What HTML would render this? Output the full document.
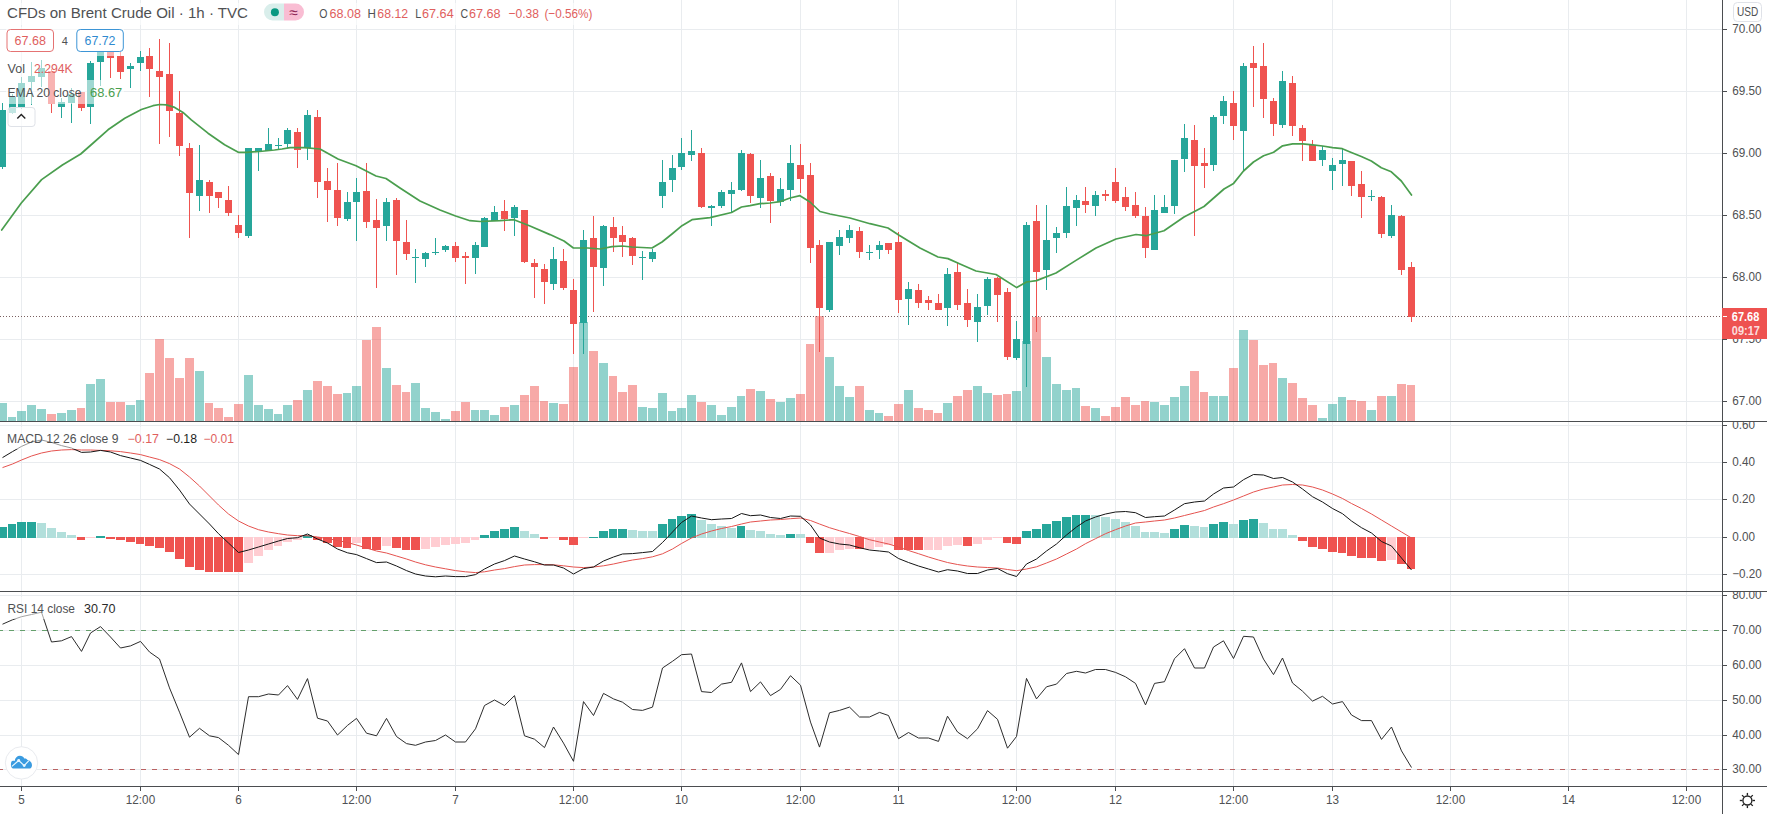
<!DOCTYPE html>
<html><head><meta charset="utf-8"><title>CFDs on Brent Crude Oil</title>
<style>
html,body{margin:0;padding:0;background:#fff;}
body{width:1767px;height:814px;overflow:hidden;position:relative;font-family:"Liberation Sans", Arial, sans-serif;}
svg{position:absolute;left:0;top:0;display:block;}
text{font-family:"Liberation Sans", Arial, sans-serif;}
.ax{font-size:12.2px;fill:#4f5153;}
.lg{font-size:12px;fill:#4f5153;}
</style></head><body>
<svg width="1767" height="814" viewBox="0 0 1767 814">
<defs>
<clipPath id="cm"><rect x="0" y="0" width="1722" height="421"/></clipPath>
<clipPath id="c2"><rect x="0" y="422" width="1722" height="169"/></clipPath>
<clipPath id="c3"><rect x="0" y="592" width="1722" height="194"/></clipPath>
<clipPath id="a2"><rect x="1722" y="422" width="45" height="169"/></clipPath>
<clipPath id="a3"><rect x="1722" y="592" width="45" height="194"/></clipPath>
</defs>
<rect width="1767" height="814" fill="#fff"/>

<g shape-rendering="crispEdges" fill="#e9ecef">
<rect x="21" y="0" width="1" height="786"/>
<rect x="140" y="0" width="1" height="786"/>
<rect x="238" y="0" width="1" height="786"/>
<rect x="356" y="0" width="1" height="786"/>
<rect x="455" y="0" width="1" height="786"/>
<rect x="573" y="0" width="1" height="786"/>
<rect x="681" y="0" width="1" height="786"/>
<rect x="800" y="0" width="1" height="786"/>
<rect x="898" y="0" width="1" height="786"/>
<rect x="1016" y="0" width="1" height="786"/>
<rect x="1115" y="0" width="1" height="786"/>
<rect x="1233" y="0" width="1" height="786"/>
<rect x="1332" y="0" width="1" height="786"/>
<rect x="1450" y="0" width="1" height="786"/>
<rect x="1568" y="0" width="1" height="786"/>
<rect x="1686" y="0" width="1" height="786"/>
<rect x="0" y="29" width="1722" height="1"/>
<rect x="0" y="91" width="1722" height="1"/>
<rect x="0" y="153" width="1722" height="1"/>
<rect x="0" y="215" width="1722" height="1"/>
<rect x="0" y="277" width="1722" height="1"/>
<rect x="0" y="339" width="1722" height="1"/>
<rect x="0" y="401" width="1722" height="1"/>
<rect x="0" y="425" width="1722" height="1"/>
<rect x="0" y="462" width="1722" height="1"/>
<rect x="0" y="499" width="1722" height="1"/>
<rect x="0" y="537" width="1722" height="1"/>
<rect x="0" y="574" width="1722" height="1"/>
<rect x="0" y="595" width="1722" height="1"/>
<rect x="0" y="630" width="1722" height="1"/>
<rect x="0" y="665" width="1722" height="1"/>
<rect x="0" y="700" width="1722" height="1"/>
<rect x="0" y="735" width="1722" height="1"/>
<rect x="0" y="769" width="1722" height="1"/>
</g>
<g clip-path="url(#cm)" shape-rendering="crispEdges">
<rect x="-2" y="403" width="9" height="18" fill="rgba(38,166,154,0.5)"/>
<rect x="8" y="417" width="8" height="4" fill="rgba(38,166,154,0.5)"/>
<rect x="17" y="411" width="9" height="10" fill="rgba(38,166,154,0.5)"/>
<rect x="27" y="405" width="9" height="16" fill="rgba(38,166,154,0.5)"/>
<rect x="37" y="409" width="9" height="12" fill="rgba(38,166,154,0.5)"/>
<rect x="47" y="414" width="9" height="7" fill="rgba(239,83,80,0.5)"/>
<rect x="57" y="413" width="9" height="8" fill="rgba(38,166,154,0.5)"/>
<rect x="67" y="410" width="9" height="11" fill="rgba(38,166,154,0.5)"/>
<rect x="77" y="408" width="8" height="13" fill="rgba(239,83,80,0.5)"/>
<rect x="86" y="384" width="9" height="37" fill="rgba(38,166,154,0.5)"/>
<rect x="96" y="379" width="9" height="42" fill="rgba(38,166,154,0.5)"/>
<rect x="106" y="402" width="9" height="19" fill="rgba(239,83,80,0.5)"/>
<rect x="116" y="402" width="9" height="19" fill="rgba(239,83,80,0.5)"/>
<rect x="126" y="405" width="9" height="16" fill="rgba(38,166,154,0.5)"/>
<rect x="136" y="400" width="8" height="21" fill="rgba(38,166,154,0.5)"/>
<rect x="145" y="373" width="9" height="48" fill="rgba(239,83,80,0.5)"/>
<rect x="155" y="339" width="9" height="82" fill="rgba(239,83,80,0.5)"/>
<rect x="165" y="358" width="9" height="63" fill="rgba(239,83,80,0.5)"/>
<rect x="175" y="378" width="9" height="43" fill="rgba(239,83,80,0.5)"/>
<rect x="185" y="358" width="9" height="63" fill="rgba(239,83,80,0.5)"/>
<rect x="195" y="371" width="9" height="50" fill="rgba(38,166,154,0.5)"/>
<rect x="205" y="403" width="8" height="18" fill="rgba(239,83,80,0.5)"/>
<rect x="214" y="408" width="9" height="13" fill="rgba(239,83,80,0.5)"/>
<rect x="224" y="417" width="9" height="4" fill="rgba(239,83,80,0.5)"/>
<rect x="234" y="404" width="9" height="17" fill="rgba(239,83,80,0.5)"/>
<rect x="244" y="375" width="9" height="46" fill="rgba(38,166,154,0.5)"/>
<rect x="254" y="405" width="9" height="16" fill="rgba(38,166,154,0.5)"/>
<rect x="264" y="409" width="9" height="12" fill="rgba(38,166,154,0.5)"/>
<rect x="274" y="414" width="8" height="7" fill="rgba(38,166,154,0.5)"/>
<rect x="283" y="405" width="9" height="16" fill="rgba(38,166,154,0.5)"/>
<rect x="293" y="400" width="9" height="21" fill="rgba(239,83,80,0.5)"/>
<rect x="303" y="390" width="9" height="31" fill="rgba(38,166,154,0.5)"/>
<rect x="313" y="381" width="9" height="40" fill="rgba(239,83,80,0.5)"/>
<rect x="323" y="386" width="9" height="35" fill="rgba(239,83,80,0.5)"/>
<rect x="333" y="394" width="9" height="27" fill="rgba(239,83,80,0.5)"/>
<rect x="343" y="393" width="8" height="28" fill="rgba(38,166,154,0.5)"/>
<rect x="352" y="386" width="9" height="35" fill="rgba(38,166,154,0.5)"/>
<rect x="362" y="340" width="9" height="81" fill="rgba(239,83,80,0.5)"/>
<rect x="372" y="327" width="9" height="94" fill="rgba(239,83,80,0.5)"/>
<rect x="382" y="368" width="9" height="53" fill="rgba(38,166,154,0.5)"/>
<rect x="392" y="385" width="9" height="36" fill="rgba(239,83,80,0.5)"/>
<rect x="402" y="392" width="8" height="29" fill="rgba(239,83,80,0.5)"/>
<rect x="411" y="383" width="9" height="38" fill="rgba(38,166,154,0.5)"/>
<rect x="421" y="408" width="9" height="13" fill="rgba(38,166,154,0.5)"/>
<rect x="431" y="412" width="9" height="9" fill="rgba(38,166,154,0.5)"/>
<rect x="441" y="419" width="9" height="2" fill="rgba(38,166,154,0.5)"/>
<rect x="451" y="411" width="9" height="10" fill="rgba(239,83,80,0.5)"/>
<rect x="461" y="402" width="9" height="19" fill="rgba(239,83,80,0.5)"/>
<rect x="471" y="410" width="8" height="11" fill="rgba(38,166,154,0.5)"/>
<rect x="480" y="410" width="9" height="11" fill="rgba(38,166,154,0.5)"/>
<rect x="490" y="415" width="9" height="6" fill="rgba(38,166,154,0.5)"/>
<rect x="500" y="407" width="9" height="14" fill="rgba(239,83,80,0.5)"/>
<rect x="510" y="405" width="9" height="16" fill="rgba(38,166,154,0.5)"/>
<rect x="520" y="395" width="9" height="26" fill="rgba(239,83,80,0.5)"/>
<rect x="530" y="386" width="9" height="35" fill="rgba(239,83,80,0.5)"/>
<rect x="540" y="401" width="8" height="20" fill="rgba(239,83,80,0.5)"/>
<rect x="549" y="403" width="9" height="18" fill="rgba(38,166,154,0.5)"/>
<rect x="559" y="404" width="9" height="17" fill="rgba(239,83,80,0.5)"/>
<rect x="569" y="367" width="9" height="54" fill="rgba(239,83,80,0.5)"/>
<rect x="579" y="322" width="9" height="99" fill="rgba(38,166,154,0.5)"/>
<rect x="589" y="351" width="9" height="70" fill="rgba(239,83,80,0.5)"/>
<rect x="599" y="363" width="9" height="58" fill="rgba(38,166,154,0.5)"/>
<rect x="609" y="376" width="8" height="45" fill="rgba(239,83,80,0.5)"/>
<rect x="618" y="392" width="9" height="29" fill="rgba(239,83,80,0.5)"/>
<rect x="628" y="385" width="9" height="36" fill="rgba(239,83,80,0.5)"/>
<rect x="638" y="407" width="9" height="14" fill="rgba(38,166,154,0.5)"/>
<rect x="648" y="408" width="9" height="13" fill="rgba(38,166,154,0.5)"/>
<rect x="658" y="393" width="9" height="28" fill="rgba(38,166,154,0.5)"/>
<rect x="668" y="411" width="8" height="10" fill="rgba(38,166,154,0.5)"/>
<rect x="677" y="408" width="9" height="13" fill="rgba(38,166,154,0.5)"/>
<rect x="687" y="395" width="9" height="26" fill="rgba(38,166,154,0.5)"/>
<rect x="697" y="402" width="9" height="19" fill="rgba(239,83,80,0.5)"/>
<rect x="707" y="405" width="9" height="16" fill="rgba(38,166,154,0.5)"/>
<rect x="717" y="415" width="9" height="6" fill="rgba(38,166,154,0.5)"/>
<rect x="727" y="407" width="9" height="14" fill="rgba(38,166,154,0.5)"/>
<rect x="737" y="396" width="8" height="25" fill="rgba(38,166,154,0.5)"/>
<rect x="746" y="389" width="9" height="32" fill="rgba(239,83,80,0.5)"/>
<rect x="756" y="391" width="9" height="30" fill="rgba(38,166,154,0.5)"/>
<rect x="766" y="399" width="9" height="22" fill="rgba(239,83,80,0.5)"/>
<rect x="776" y="402" width="9" height="19" fill="rgba(38,166,154,0.5)"/>
<rect x="786" y="398" width="9" height="23" fill="rgba(38,166,154,0.5)"/>
<rect x="796" y="394" width="9" height="27" fill="rgba(239,83,80,0.5)"/>
<rect x="806" y="344" width="8" height="77" fill="rgba(239,83,80,0.5)"/>
<rect x="815" y="316" width="9" height="105" fill="rgba(239,83,80,0.5)"/>
<rect x="825" y="357" width="9" height="64" fill="rgba(38,166,154,0.5)"/>
<rect x="835" y="386" width="9" height="35" fill="rgba(38,166,154,0.5)"/>
<rect x="845" y="397" width="9" height="24" fill="rgba(38,166,154,0.5)"/>
<rect x="855" y="386" width="9" height="35" fill="rgba(239,83,80,0.5)"/>
<rect x="865" y="410" width="9" height="11" fill="rgba(38,166,154,0.5)"/>
<rect x="875" y="413" width="8" height="8" fill="rgba(38,166,154,0.5)"/>
<rect x="884" y="416" width="9" height="5" fill="rgba(239,83,80,0.5)"/>
<rect x="894" y="404" width="9" height="17" fill="rgba(239,83,80,0.5)"/>
<rect x="904" y="390" width="9" height="31" fill="rgba(38,166,154,0.5)"/>
<rect x="914" y="408" width="9" height="13" fill="rgba(239,83,80,0.5)"/>
<rect x="924" y="410" width="9" height="11" fill="rgba(239,83,80,0.5)"/>
<rect x="934" y="413" width="8" height="8" fill="rgba(239,83,80,0.5)"/>
<rect x="943" y="403" width="9" height="18" fill="rgba(38,166,154,0.5)"/>
<rect x="953" y="396" width="9" height="25" fill="rgba(239,83,80,0.5)"/>
<rect x="963" y="390" width="9" height="31" fill="rgba(239,83,80,0.5)"/>
<rect x="973" y="386" width="9" height="35" fill="rgba(38,166,154,0.5)"/>
<rect x="983" y="393" width="9" height="28" fill="rgba(38,166,154,0.5)"/>
<rect x="993" y="395" width="9" height="26" fill="rgba(239,83,80,0.5)"/>
<rect x="1003" y="394" width="8" height="27" fill="rgba(239,83,80,0.5)"/>
<rect x="1012" y="391" width="9" height="30" fill="rgba(38,166,154,0.5)"/>
<rect x="1022" y="341" width="9" height="80" fill="rgba(38,166,154,0.5)"/>
<rect x="1032" y="317" width="9" height="104" fill="rgba(239,83,80,0.5)"/>
<rect x="1042" y="357" width="9" height="64" fill="rgba(38,166,154,0.5)"/>
<rect x="1052" y="384" width="9" height="37" fill="rgba(38,166,154,0.5)"/>
<rect x="1062" y="390" width="9" height="31" fill="rgba(38,166,154,0.5)"/>
<rect x="1072" y="388" width="8" height="33" fill="rgba(38,166,154,0.5)"/>
<rect x="1081" y="406" width="9" height="15" fill="rgba(239,83,80,0.5)"/>
<rect x="1091" y="408" width="9" height="13" fill="rgba(38,166,154,0.5)"/>
<rect x="1101" y="416" width="9" height="5" fill="rgba(239,83,80,0.5)"/>
<rect x="1111" y="407" width="9" height="14" fill="rgba(239,83,80,0.5)"/>
<rect x="1121" y="397" width="9" height="24" fill="rgba(239,83,80,0.5)"/>
<rect x="1131" y="405" width="9" height="16" fill="rgba(239,83,80,0.5)"/>
<rect x="1141" y="401" width="8" height="20" fill="rgba(239,83,80,0.5)"/>
<rect x="1150" y="402" width="9" height="19" fill="rgba(38,166,154,0.5)"/>
<rect x="1160" y="405" width="9" height="16" fill="rgba(38,166,154,0.5)"/>
<rect x="1170" y="397" width="9" height="24" fill="rgba(38,166,154,0.5)"/>
<rect x="1180" y="386" width="9" height="35" fill="rgba(38,166,154,0.5)"/>
<rect x="1190" y="371" width="9" height="50" fill="rgba(239,83,80,0.5)"/>
<rect x="1200" y="392" width="8" height="29" fill="rgba(239,83,80,0.5)"/>
<rect x="1209" y="396" width="9" height="25" fill="rgba(38,166,154,0.5)"/>
<rect x="1219" y="396" width="9" height="25" fill="rgba(38,166,154,0.5)"/>
<rect x="1229" y="368" width="9" height="53" fill="rgba(239,83,80,0.5)"/>
<rect x="1239" y="330" width="9" height="91" fill="rgba(38,166,154,0.5)"/>
<rect x="1249" y="340" width="9" height="81" fill="rgba(239,83,80,0.5)"/>
<rect x="1259" y="365" width="9" height="56" fill="rgba(239,83,80,0.5)"/>
<rect x="1269" y="363" width="8" height="58" fill="rgba(239,83,80,0.5)"/>
<rect x="1278" y="378" width="9" height="43" fill="rgba(38,166,154,0.5)"/>
<rect x="1288" y="383" width="9" height="38" fill="rgba(239,83,80,0.5)"/>
<rect x="1298" y="398" width="9" height="23" fill="rgba(239,83,80,0.5)"/>
<rect x="1308" y="405" width="9" height="16" fill="rgba(239,83,80,0.5)"/>
<rect x="1318" y="418" width="9" height="3" fill="rgba(38,166,154,0.5)"/>
<rect x="1328" y="404" width="9" height="17" fill="rgba(38,166,154,0.5)"/>
<rect x="1338" y="397" width="8" height="24" fill="rgba(38,166,154,0.5)"/>
<rect x="1347" y="400" width="9" height="21" fill="rgba(239,83,80,0.5)"/>
<rect x="1357" y="401" width="9" height="20" fill="rgba(239,83,80,0.5)"/>
<rect x="1367" y="410" width="9" height="11" fill="rgba(38,166,154,0.5)"/>
<rect x="1377" y="396" width="9" height="25" fill="rgba(239,83,80,0.5)"/>
<rect x="1387" y="396" width="9" height="25" fill="rgba(38,166,154,0.5)"/>
<rect x="1397" y="384" width="9" height="37" fill="rgba(239,83,80,0.5)"/>
<rect x="1407" y="385" width="8" height="36" fill="rgba(239,83,80,0.5)"/>
<line x1="0" y1="316.5" x2="1722" y2="316.5" stroke="#7a6060" stroke-width="1" stroke-dasharray="1 2" shape-rendering="crispEdges"/>
<rect x="2" y="103" width="1" height="66" fill="#26a69a"/>
<rect x="-1" y="110" width="7" height="57" fill="#26a69a"/>
<rect x="12" y="94" width="1" height="20" fill="#26a69a"/>
<rect x="9" y="97" width="7" height="16" fill="#26a69a"/>
<rect x="21" y="77" width="1" height="32" fill="#26a69a"/>
<rect x="18" y="83" width="7" height="25" fill="#26a69a"/>
<rect x="31" y="62" width="1" height="43" fill="#26a69a"/>
<rect x="28" y="76" width="7" height="6" fill="#26a69a"/>
<rect x="41" y="60" width="1" height="27" fill="#26a69a"/>
<rect x="38" y="68" width="7" height="9" fill="#26a69a"/>
<rect x="51" y="69" width="1" height="44" fill="#ef5350"/>
<rect x="48" y="71" width="7" height="33" fill="#ef5350"/>
<rect x="61" y="98" width="1" height="20" fill="#26a69a"/>
<rect x="58" y="102" width="7" height="5" fill="#26a69a"/>
<rect x="71" y="88" width="1" height="35" fill="#26a69a"/>
<rect x="68" y="94" width="7" height="9" fill="#26a69a"/>
<rect x="81" y="92" width="1" height="19" fill="#ef5350"/>
<rect x="78" y="92" width="7" height="16" fill="#ef5350"/>
<rect x="90" y="61" width="1" height="63" fill="#26a69a"/>
<rect x="87" y="63" width="7" height="44" fill="#26a69a"/>
<rect x="100" y="45" width="1" height="41" fill="#26a69a"/>
<rect x="97" y="48" width="7" height="14" fill="#26a69a"/>
<rect x="110" y="45" width="1" height="33" fill="#ef5350"/>
<rect x="107" y="48" width="7" height="10" fill="#ef5350"/>
<rect x="120" y="52" width="1" height="27" fill="#ef5350"/>
<rect x="117" y="56" width="7" height="16" fill="#ef5350"/>
<rect x="130" y="63" width="1" height="25" fill="#26a69a"/>
<rect x="127" y="66" width="7" height="3" fill="#26a69a"/>
<rect x="140" y="51" width="1" height="20" fill="#26a69a"/>
<rect x="137" y="57" width="7" height="6" fill="#26a69a"/>
<rect x="149" y="48" width="1" height="49" fill="#ef5350"/>
<rect x="146" y="56" width="7" height="13" fill="#ef5350"/>
<rect x="159" y="39" width="1" height="105" fill="#ef5350"/>
<rect x="156" y="71" width="7" height="6" fill="#ef5350"/>
<rect x="169" y="43" width="1" height="94" fill="#ef5350"/>
<rect x="166" y="74" width="7" height="37" fill="#ef5350"/>
<rect x="179" y="91" width="1" height="65" fill="#ef5350"/>
<rect x="176" y="113" width="7" height="33" fill="#ef5350"/>
<rect x="189" y="143" width="1" height="95" fill="#ef5350"/>
<rect x="186" y="148" width="7" height="45" fill="#ef5350"/>
<rect x="199" y="145" width="1" height="66" fill="#26a69a"/>
<rect x="196" y="180" width="7" height="16" fill="#26a69a"/>
<rect x="209" y="180" width="1" height="33" fill="#ef5350"/>
<rect x="206" y="182" width="7" height="14" fill="#ef5350"/>
<rect x="218" y="192" width="1" height="16" fill="#ef5350"/>
<rect x="215" y="192" width="7" height="6" fill="#ef5350"/>
<rect x="228" y="186" width="1" height="30" fill="#ef5350"/>
<rect x="225" y="200" width="7" height="13" fill="#ef5350"/>
<rect x="238" y="215" width="1" height="23" fill="#ef5350"/>
<rect x="235" y="225" width="7" height="8" fill="#ef5350"/>
<rect x="248" y="148" width="1" height="90" fill="#26a69a"/>
<rect x="245" y="148" width="7" height="88" fill="#26a69a"/>
<rect x="258" y="148" width="1" height="23" fill="#26a69a"/>
<rect x="255" y="148" width="7" height="4" fill="#26a69a"/>
<rect x="268" y="128" width="1" height="23" fill="#26a69a"/>
<rect x="265" y="144" width="7" height="7" fill="#26a69a"/>
<rect x="278" y="138" width="1" height="12" fill="#26a69a"/>
<rect x="275" y="145" width="7" height="1" fill="#26a69a"/>
<rect x="287" y="128" width="1" height="20" fill="#26a69a"/>
<rect x="284" y="130" width="7" height="14" fill="#26a69a"/>
<rect x="297" y="128" width="1" height="40" fill="#ef5350"/>
<rect x="294" y="132" width="7" height="18" fill="#ef5350"/>
<rect x="307" y="110" width="1" height="50" fill="#26a69a"/>
<rect x="304" y="115" width="7" height="33" fill="#26a69a"/>
<rect x="317" y="110" width="1" height="88" fill="#ef5350"/>
<rect x="314" y="117" width="7" height="65" fill="#ef5350"/>
<rect x="327" y="168" width="1" height="54" fill="#ef5350"/>
<rect x="324" y="181" width="7" height="9" fill="#ef5350"/>
<rect x="337" y="163" width="1" height="63" fill="#ef5350"/>
<rect x="334" y="190" width="7" height="28" fill="#ef5350"/>
<rect x="347" y="192" width="1" height="29" fill="#26a69a"/>
<rect x="344" y="202" width="7" height="17" fill="#26a69a"/>
<rect x="356" y="178" width="1" height="63" fill="#26a69a"/>
<rect x="353" y="192" width="7" height="10" fill="#26a69a"/>
<rect x="366" y="163" width="1" height="65" fill="#ef5350"/>
<rect x="363" y="191" width="7" height="31" fill="#ef5350"/>
<rect x="376" y="199" width="1" height="89" fill="#ef5350"/>
<rect x="373" y="220" width="7" height="8" fill="#ef5350"/>
<rect x="386" y="198" width="1" height="43" fill="#26a69a"/>
<rect x="383" y="202" width="7" height="24" fill="#26a69a"/>
<rect x="396" y="198" width="1" height="77" fill="#ef5350"/>
<rect x="393" y="200" width="7" height="41" fill="#ef5350"/>
<rect x="406" y="220" width="1" height="40" fill="#ef5350"/>
<rect x="403" y="242" width="7" height="12" fill="#ef5350"/>
<rect x="415" y="249" width="1" height="34" fill="#26a69a"/>
<rect x="412" y="257" width="7" height="1" fill="#26a69a"/>
<rect x="425" y="252" width="1" height="15" fill="#26a69a"/>
<rect x="422" y="253" width="7" height="6" fill="#26a69a"/>
<rect x="435" y="238" width="1" height="17" fill="#26a69a"/>
<rect x="432" y="252" width="7" height="1" fill="#26a69a"/>
<rect x="445" y="245" width="1" height="7" fill="#26a69a"/>
<rect x="442" y="246" width="7" height="4" fill="#26a69a"/>
<rect x="455" y="242" width="1" height="20" fill="#ef5350"/>
<rect x="452" y="246" width="7" height="12" fill="#ef5350"/>
<rect x="465" y="252" width="1" height="32" fill="#ef5350"/>
<rect x="462" y="256" width="7" height="2" fill="#ef5350"/>
<rect x="475" y="242" width="1" height="32" fill="#26a69a"/>
<rect x="472" y="245" width="7" height="13" fill="#26a69a"/>
<rect x="484" y="217" width="1" height="30" fill="#26a69a"/>
<rect x="481" y="218" width="7" height="29" fill="#26a69a"/>
<rect x="494" y="206" width="1" height="15" fill="#26a69a"/>
<rect x="491" y="212" width="7" height="9" fill="#26a69a"/>
<rect x="504" y="200" width="1" height="31" fill="#ef5350"/>
<rect x="501" y="211" width="7" height="8" fill="#ef5350"/>
<rect x="514" y="205" width="1" height="31" fill="#26a69a"/>
<rect x="511" y="207" width="7" height="11" fill="#26a69a"/>
<rect x="524" y="210" width="1" height="53" fill="#ef5350"/>
<rect x="521" y="210" width="7" height="52" fill="#ef5350"/>
<rect x="534" y="259" width="1" height="39" fill="#ef5350"/>
<rect x="531" y="263" width="7" height="4" fill="#ef5350"/>
<rect x="544" y="264" width="1" height="40" fill="#ef5350"/>
<rect x="541" y="269" width="7" height="13" fill="#ef5350"/>
<rect x="553" y="247" width="1" height="43" fill="#26a69a"/>
<rect x="550" y="259" width="7" height="25" fill="#26a69a"/>
<rect x="563" y="249" width="1" height="41" fill="#ef5350"/>
<rect x="560" y="261" width="7" height="27" fill="#ef5350"/>
<rect x="573" y="279" width="1" height="75" fill="#ef5350"/>
<rect x="570" y="290" width="7" height="34" fill="#ef5350"/>
<rect x="583" y="230" width="1" height="124" fill="#26a69a"/>
<rect x="580" y="240" width="7" height="83" fill="#26a69a"/>
<rect x="593" y="216" width="1" height="96" fill="#ef5350"/>
<rect x="590" y="238" width="7" height="29" fill="#ef5350"/>
<rect x="603" y="225" width="1" height="61" fill="#26a69a"/>
<rect x="600" y="226" width="7" height="42" fill="#26a69a"/>
<rect x="613" y="217" width="1" height="35" fill="#ef5350"/>
<rect x="610" y="227" width="7" height="11" fill="#ef5350"/>
<rect x="622" y="226" width="1" height="31" fill="#ef5350"/>
<rect x="619" y="235" width="7" height="7" fill="#ef5350"/>
<rect x="632" y="237" width="1" height="28" fill="#ef5350"/>
<rect x="629" y="238" width="7" height="18" fill="#ef5350"/>
<rect x="642" y="251" width="1" height="29" fill="#26a69a"/>
<rect x="639" y="257" width="7" height="1" fill="#26a69a"/>
<rect x="652" y="249" width="1" height="13" fill="#26a69a"/>
<rect x="649" y="252" width="7" height="7" fill="#26a69a"/>
<rect x="662" y="160" width="1" height="48" fill="#26a69a"/>
<rect x="659" y="182" width="7" height="14" fill="#26a69a"/>
<rect x="672" y="155" width="1" height="37" fill="#26a69a"/>
<rect x="669" y="168" width="7" height="12" fill="#26a69a"/>
<rect x="681" y="138" width="1" height="32" fill="#26a69a"/>
<rect x="678" y="153" width="7" height="14" fill="#26a69a"/>
<rect x="691" y="130" width="1" height="31" fill="#26a69a"/>
<rect x="688" y="151" width="7" height="4" fill="#26a69a"/>
<rect x="701" y="148" width="1" height="60" fill="#ef5350"/>
<rect x="698" y="153" width="7" height="54" fill="#ef5350"/>
<rect x="711" y="205" width="1" height="21" fill="#26a69a"/>
<rect x="708" y="206" width="7" height="2" fill="#26a69a"/>
<rect x="721" y="190" width="1" height="18" fill="#26a69a"/>
<rect x="718" y="192" width="7" height="14" fill="#26a69a"/>
<rect x="731" y="182" width="1" height="31" fill="#26a69a"/>
<rect x="728" y="190" width="7" height="4" fill="#26a69a"/>
<rect x="741" y="150" width="1" height="41" fill="#26a69a"/>
<rect x="738" y="153" width="7" height="37" fill="#26a69a"/>
<rect x="750" y="153" width="1" height="50" fill="#ef5350"/>
<rect x="747" y="154" width="7" height="42" fill="#ef5350"/>
<rect x="760" y="160" width="1" height="48" fill="#26a69a"/>
<rect x="757" y="178" width="7" height="20" fill="#26a69a"/>
<rect x="770" y="173" width="1" height="50" fill="#ef5350"/>
<rect x="767" y="176" width="7" height="25" fill="#ef5350"/>
<rect x="780" y="178" width="1" height="28" fill="#26a69a"/>
<rect x="777" y="189" width="7" height="13" fill="#26a69a"/>
<rect x="790" y="145" width="1" height="56" fill="#26a69a"/>
<rect x="787" y="163" width="7" height="27" fill="#26a69a"/>
<rect x="800" y="144" width="1" height="49" fill="#ef5350"/>
<rect x="797" y="165" width="7" height="14" fill="#ef5350"/>
<rect x="810" y="163" width="1" height="100" fill="#ef5350"/>
<rect x="807" y="175" width="7" height="73" fill="#ef5350"/>
<rect x="819" y="240" width="1" height="112" fill="#ef5350"/>
<rect x="816" y="245" width="7" height="63" fill="#ef5350"/>
<rect x="829" y="242" width="1" height="70" fill="#26a69a"/>
<rect x="826" y="242" width="7" height="68" fill="#26a69a"/>
<rect x="839" y="230" width="1" height="25" fill="#26a69a"/>
<rect x="836" y="237" width="7" height="9" fill="#26a69a"/>
<rect x="849" y="225" width="1" height="18" fill="#26a69a"/>
<rect x="846" y="230" width="7" height="8" fill="#26a69a"/>
<rect x="859" y="227" width="1" height="31" fill="#ef5350"/>
<rect x="856" y="231" width="7" height="21" fill="#ef5350"/>
<rect x="869" y="245" width="1" height="15" fill="#26a69a"/>
<rect x="866" y="252" width="7" height="1" fill="#26a69a"/>
<rect x="879" y="241" width="1" height="18" fill="#26a69a"/>
<rect x="876" y="245" width="7" height="5" fill="#26a69a"/>
<rect x="888" y="243" width="1" height="11" fill="#ef5350"/>
<rect x="885" y="243" width="7" height="7" fill="#ef5350"/>
<rect x="898" y="232" width="1" height="81" fill="#ef5350"/>
<rect x="895" y="242" width="7" height="58" fill="#ef5350"/>
<rect x="908" y="282" width="1" height="43" fill="#26a69a"/>
<rect x="905" y="289" width="7" height="10" fill="#26a69a"/>
<rect x="918" y="284" width="1" height="24" fill="#ef5350"/>
<rect x="915" y="290" width="7" height="13" fill="#ef5350"/>
<rect x="928" y="296" width="1" height="14" fill="#ef5350"/>
<rect x="925" y="300" width="7" height="3" fill="#ef5350"/>
<rect x="938" y="294" width="1" height="16" fill="#ef5350"/>
<rect x="935" y="303" width="7" height="7" fill="#ef5350"/>
<rect x="947" y="268" width="1" height="58" fill="#26a69a"/>
<rect x="944" y="274" width="7" height="34" fill="#26a69a"/>
<rect x="957" y="262" width="1" height="48" fill="#ef5350"/>
<rect x="954" y="272" width="7" height="33" fill="#ef5350"/>
<rect x="967" y="289" width="1" height="38" fill="#ef5350"/>
<rect x="964" y="303" width="7" height="17" fill="#ef5350"/>
<rect x="977" y="294" width="1" height="48" fill="#26a69a"/>
<rect x="974" y="307" width="7" height="15" fill="#26a69a"/>
<rect x="987" y="277" width="1" height="38" fill="#26a69a"/>
<rect x="984" y="279" width="7" height="27" fill="#26a69a"/>
<rect x="997" y="277" width="1" height="45" fill="#ef5350"/>
<rect x="994" y="278" width="7" height="17" fill="#ef5350"/>
<rect x="1007" y="288" width="1" height="72" fill="#ef5350"/>
<rect x="1004" y="292" width="7" height="65" fill="#ef5350"/>
<rect x="1016" y="321" width="1" height="39" fill="#26a69a"/>
<rect x="1013" y="339" width="7" height="19" fill="#26a69a"/>
<rect x="1026" y="222" width="1" height="165" fill="#26a69a"/>
<rect x="1023" y="225" width="7" height="119" fill="#26a69a"/>
<rect x="1036" y="205" width="1" height="127" fill="#ef5350"/>
<rect x="1033" y="221" width="7" height="51" fill="#ef5350"/>
<rect x="1046" y="205" width="1" height="85" fill="#26a69a"/>
<rect x="1043" y="240" width="7" height="30" fill="#26a69a"/>
<rect x="1056" y="227" width="1" height="26" fill="#26a69a"/>
<rect x="1053" y="233" width="7" height="5" fill="#26a69a"/>
<rect x="1066" y="187" width="1" height="51" fill="#26a69a"/>
<rect x="1063" y="206" width="7" height="27" fill="#26a69a"/>
<rect x="1076" y="195" width="1" height="31" fill="#26a69a"/>
<rect x="1073" y="200" width="7" height="8" fill="#26a69a"/>
<rect x="1085" y="187" width="1" height="26" fill="#ef5350"/>
<rect x="1082" y="201" width="7" height="4" fill="#ef5350"/>
<rect x="1095" y="191" width="1" height="25" fill="#26a69a"/>
<rect x="1092" y="195" width="7" height="11" fill="#26a69a"/>
<rect x="1105" y="190" width="1" height="11" fill="#ef5350"/>
<rect x="1102" y="194" width="7" height="2" fill="#ef5350"/>
<rect x="1115" y="168" width="1" height="35" fill="#ef5350"/>
<rect x="1112" y="182" width="7" height="19" fill="#ef5350"/>
<rect x="1125" y="187" width="1" height="24" fill="#ef5350"/>
<rect x="1122" y="197" width="7" height="10" fill="#ef5350"/>
<rect x="1135" y="192" width="1" height="26" fill="#ef5350"/>
<rect x="1132" y="205" width="7" height="11" fill="#ef5350"/>
<rect x="1145" y="207" width="1" height="51" fill="#ef5350"/>
<rect x="1142" y="216" width="7" height="32" fill="#ef5350"/>
<rect x="1154" y="195" width="1" height="55" fill="#26a69a"/>
<rect x="1151" y="210" width="7" height="40" fill="#26a69a"/>
<rect x="1164" y="195" width="1" height="18" fill="#26a69a"/>
<rect x="1161" y="207" width="7" height="6" fill="#26a69a"/>
<rect x="1174" y="160" width="1" height="54" fill="#26a69a"/>
<rect x="1171" y="160" width="7" height="46" fill="#26a69a"/>
<rect x="1184" y="124" width="1" height="48" fill="#26a69a"/>
<rect x="1181" y="138" width="7" height="21" fill="#26a69a"/>
<rect x="1194" y="125" width="1" height="111" fill="#ef5350"/>
<rect x="1191" y="140" width="7" height="26" fill="#ef5350"/>
<rect x="1204" y="148" width="1" height="40" fill="#ef5350"/>
<rect x="1201" y="163" width="7" height="3" fill="#ef5350"/>
<rect x="1213" y="115" width="1" height="56" fill="#26a69a"/>
<rect x="1210" y="117" width="7" height="48" fill="#26a69a"/>
<rect x="1223" y="96" width="1" height="28" fill="#26a69a"/>
<rect x="1220" y="101" width="7" height="15" fill="#26a69a"/>
<rect x="1233" y="91" width="1" height="49" fill="#ef5350"/>
<rect x="1230" y="103" width="7" height="23" fill="#ef5350"/>
<rect x="1243" y="63" width="1" height="108" fill="#26a69a"/>
<rect x="1240" y="66" width="7" height="65" fill="#26a69a"/>
<rect x="1253" y="46" width="1" height="61" fill="#ef5350"/>
<rect x="1250" y="63" width="7" height="5" fill="#ef5350"/>
<rect x="1263" y="43" width="1" height="75" fill="#ef5350"/>
<rect x="1260" y="66" width="7" height="33" fill="#ef5350"/>
<rect x="1273" y="98" width="1" height="38" fill="#ef5350"/>
<rect x="1270" y="101" width="7" height="23" fill="#ef5350"/>
<rect x="1282" y="71" width="1" height="57" fill="#26a69a"/>
<rect x="1279" y="81" width="7" height="44" fill="#26a69a"/>
<rect x="1292" y="76" width="1" height="60" fill="#ef5350"/>
<rect x="1289" y="83" width="7" height="43" fill="#ef5350"/>
<rect x="1302" y="125" width="1" height="36" fill="#ef5350"/>
<rect x="1299" y="128" width="7" height="13" fill="#ef5350"/>
<rect x="1312" y="140" width="1" height="21" fill="#ef5350"/>
<rect x="1309" y="145" width="7" height="16" fill="#ef5350"/>
<rect x="1322" y="146" width="1" height="20" fill="#26a69a"/>
<rect x="1319" y="150" width="7" height="10" fill="#26a69a"/>
<rect x="1332" y="158" width="1" height="32" fill="#26a69a"/>
<rect x="1329" y="165" width="7" height="6" fill="#26a69a"/>
<rect x="1342" y="149" width="1" height="37" fill="#26a69a"/>
<rect x="1339" y="160" width="7" height="4" fill="#26a69a"/>
<rect x="1351" y="161" width="1" height="35" fill="#ef5350"/>
<rect x="1348" y="161" width="7" height="25" fill="#ef5350"/>
<rect x="1361" y="171" width="1" height="47" fill="#ef5350"/>
<rect x="1358" y="184" width="7" height="13" fill="#ef5350"/>
<rect x="1371" y="190" width="1" height="11" fill="#26a69a"/>
<rect x="1368" y="196" width="7" height="1" fill="#26a69a"/>
<rect x="1381" y="196" width="1" height="42" fill="#ef5350"/>
<rect x="1378" y="197" width="7" height="37" fill="#ef5350"/>
<rect x="1391" y="205" width="1" height="33" fill="#26a69a"/>
<rect x="1388" y="215" width="7" height="21" fill="#26a69a"/>
<rect x="1401" y="215" width="1" height="60" fill="#ef5350"/>
<rect x="1398" y="216" width="7" height="54" fill="#ef5350"/>
<rect x="1411" y="262" width="1" height="60" fill="#ef5350"/>
<rect x="1408" y="267" width="7" height="50" fill="#ef5350"/>
</g>
<polyline clip-path="url(#cm)" points="1.7,230.0 21.3,203.0 41.6,179.6 62.4,165.0 80.7,154.0 93.2,143.0 108.0,129.8 124.8,118.2 141.4,109.5 153.0,105.7 159.7,104.5 166.4,104.9 174.7,107.4 183.0,112.4 191.3,119.9 208.0,133.2 224.6,144.8 238.3,152.3 246.3,152.3 259.6,151.5 274.5,150.0 282.0,149.0 290.0,147.7 304.0,147.7 320.0,149.0 338.0,159.0 356.0,165.7 376.0,176.0 386.0,178.5 400.0,188.0 420.0,201.0 440.0,210.0 455.6,216.0 470.0,220.7 480.0,221.5 500.0,220.7 514.0,219.7 530.0,226.0 550.0,234.6 564.0,241.0 573.4,248.0 588.0,248.0 600.0,249.0 612.0,246.6 622.0,246.0 632.0,247.0 652.0,248.0 662.0,242.0 672.0,234.0 682.0,225.7 692.0,219.7 710.0,217.7 731.5,212.5 741.5,207.0 750.0,205.7 760.0,203.7 770.0,203.0 780.0,201.7 790.0,198.0 800.0,195.7 810.0,202.0 820.0,211.5 830.0,214.0 850.0,218.0 870.0,223.7 888.0,228.0 898.7,235.0 920.0,248.0 938.0,257.0 948.0,258.6 960.0,264.0 976.0,271.0 996.0,274.5 1016.7,287.6 1026.5,282.0 1036.5,280.6 1056.0,273.0 1076.0,260.4 1096.0,248.0 1116.0,239.0 1136.0,234.5 1146.0,235.7 1164.0,230.7 1184.0,217.0 1204.0,206.5 1224.0,189.0 1233.6,183.4 1243.5,171.0 1253.5,162.0 1263.6,155.8 1273.6,152.3 1282.6,145.8 1292.6,143.8 1302.6,143.8 1312.6,144.9 1322.6,146.0 1332.6,147.7 1342.3,148.7 1351.3,152.5 1361.3,156.5 1371.3,161.0 1381.3,167.8 1391.3,171.8 1401.3,181.0 1411.5,195.0" fill="none" stroke="#4a9e4e" stroke-width="1.7" stroke-linejoin="round" stroke-linecap="round"/>
<g clip-path="url(#c2)">
<g shape-rendering="crispEdges">
<rect x="-2" y="527" width="9" height="11" fill="#26a69a"/>
<rect x="8" y="524" width="8" height="14" fill="#26a69a"/>
<rect x="17" y="522" width="9" height="16" fill="#26a69a"/>
<rect x="27" y="522" width="9" height="16" fill="#26a69a"/>
<rect x="37" y="523" width="9" height="15" fill="#b2dfdb"/>
<rect x="47" y="528" width="9" height="10" fill="#b2dfdb"/>
<rect x="57" y="532" width="9" height="6" fill="#b2dfdb"/>
<rect x="67" y="535" width="9" height="3" fill="#b2dfdb"/>
<rect x="77" y="537" width="8" height="3" fill="#ef5350"/>
<rect x="86" y="537" width="9" height="1" fill="#ffcdd2"/>
<rect x="96" y="536" width="9" height="2" fill="#26a69a"/>
<rect x="106" y="537" width="9" height="2" fill="#ef5350"/>
<rect x="116" y="537" width="9" height="3" fill="#ef5350"/>
<rect x="126" y="537" width="9" height="5" fill="#ef5350"/>
<rect x="136" y="537" width="8" height="7" fill="#ef5350"/>
<rect x="145" y="537" width="9" height="9" fill="#ef5350"/>
<rect x="155" y="537" width="9" height="11" fill="#ef5350"/>
<rect x="165" y="537" width="9" height="15" fill="#ef5350"/>
<rect x="175" y="537" width="9" height="22" fill="#ef5350"/>
<rect x="185" y="537" width="9" height="30" fill="#ef5350"/>
<rect x="195" y="537" width="9" height="33" fill="#ef5350"/>
<rect x="205" y="537" width="8" height="35" fill="#ef5350"/>
<rect x="214" y="537" width="9" height="35" fill="#ef5350"/>
<rect x="224" y="537" width="9" height="35" fill="#ef5350"/>
<rect x="234" y="537" width="9" height="35" fill="#ef5350"/>
<rect x="244" y="537" width="9" height="26" fill="#ffcdd2"/>
<rect x="254" y="537" width="9" height="19" fill="#ffcdd2"/>
<rect x="264" y="537" width="9" height="13" fill="#ffcdd2"/>
<rect x="274" y="537" width="8" height="9" fill="#ffcdd2"/>
<rect x="283" y="537" width="9" height="5" fill="#ffcdd2"/>
<rect x="293" y="537" width="9" height="3" fill="#ffcdd2"/>
<rect x="303" y="535" width="9" height="3" fill="#26a69a"/>
<rect x="313" y="537" width="9" height="3" fill="#ef5350"/>
<rect x="323" y="537" width="9" height="6" fill="#ef5350"/>
<rect x="333" y="537" width="9" height="10" fill="#ef5350"/>
<rect x="343" y="537" width="8" height="11" fill="#ef5350"/>
<rect x="352" y="537" width="9" height="6" fill="#ffcdd2"/>
<rect x="362" y="537" width="9" height="12" fill="#ef5350"/>
<rect x="372" y="537" width="9" height="13" fill="#ef5350"/>
<rect x="382" y="537" width="9" height="9" fill="#ffcdd2"/>
<rect x="392" y="537" width="9" height="11" fill="#ef5350"/>
<rect x="402" y="537" width="8" height="13" fill="#ef5350"/>
<rect x="411" y="537" width="9" height="13" fill="#ef5350"/>
<rect x="421" y="537" width="9" height="12" fill="#ffcdd2"/>
<rect x="431" y="537" width="9" height="10" fill="#ffcdd2"/>
<rect x="441" y="537" width="9" height="8" fill="#ffcdd2"/>
<rect x="451" y="537" width="9" height="7" fill="#ffcdd2"/>
<rect x="461" y="537" width="9" height="6" fill="#ffcdd2"/>
<rect x="471" y="537" width="8" height="3" fill="#ffcdd2"/>
<rect x="480" y="535" width="9" height="3" fill="#26a69a"/>
<rect x="490" y="531" width="9" height="7" fill="#26a69a"/>
<rect x="500" y="529" width="9" height="9" fill="#26a69a"/>
<rect x="510" y="527" width="9" height="11" fill="#26a69a"/>
<rect x="520" y="531" width="9" height="7" fill="#b2dfdb"/>
<rect x="530" y="534" width="9" height="4" fill="#b2dfdb"/>
<rect x="540" y="537" width="8" height="2" fill="#ef5350"/>
<rect x="549" y="537" width="9" height="1" fill="#ffcdd2"/>
<rect x="559" y="537" width="9" height="3" fill="#ef5350"/>
<rect x="569" y="537" width="9" height="8" fill="#ef5350"/>
<rect x="579" y="537" width="9" height="1" fill="#ffcdd2"/>
<rect x="589" y="537" width="9" height="1" fill="#26a69a"/>
<rect x="599" y="531" width="9" height="7" fill="#26a69a"/>
<rect x="609" y="529" width="8" height="9" fill="#26a69a"/>
<rect x="618" y="529" width="9" height="9" fill="#26a69a"/>
<rect x="628" y="530" width="9" height="8" fill="#b2dfdb"/>
<rect x="638" y="531" width="9" height="7" fill="#b2dfdb"/>
<rect x="648" y="531" width="9" height="7" fill="#b2dfdb"/>
<rect x="658" y="524" width="9" height="14" fill="#26a69a"/>
<rect x="668" y="519" width="8" height="19" fill="#26a69a"/>
<rect x="677" y="516" width="9" height="22" fill="#26a69a"/>
<rect x="687" y="514" width="9" height="24" fill="#26a69a"/>
<rect x="697" y="520" width="9" height="18" fill="#b2dfdb"/>
<rect x="707" y="524" width="9" height="14" fill="#b2dfdb"/>
<rect x="717" y="526" width="9" height="12" fill="#b2dfdb"/>
<rect x="727" y="528" width="9" height="10" fill="#b2dfdb"/>
<rect x="737" y="526" width="8" height="12" fill="#26a69a"/>
<rect x="746" y="530" width="9" height="8" fill="#b2dfdb"/>
<rect x="756" y="531" width="9" height="7" fill="#b2dfdb"/>
<rect x="766" y="534" width="9" height="4" fill="#b2dfdb"/>
<rect x="776" y="535" width="9" height="3" fill="#b2dfdb"/>
<rect x="786" y="534" width="9" height="4" fill="#26a69a"/>
<rect x="796" y="534" width="9" height="4" fill="#b2dfdb"/>
<rect x="806" y="537" width="8" height="6" fill="#ef5350"/>
<rect x="815" y="537" width="9" height="16" fill="#ef5350"/>
<rect x="825" y="537" width="9" height="16" fill="#ffcdd2"/>
<rect x="835" y="537" width="9" height="13" fill="#ffcdd2"/>
<rect x="845" y="537" width="9" height="12" fill="#ffcdd2"/>
<rect x="855" y="537" width="9" height="12" fill="#ef5350"/>
<rect x="865" y="537" width="9" height="12" fill="#ffcdd2"/>
<rect x="875" y="537" width="8" height="10" fill="#ffcdd2"/>
<rect x="884" y="537" width="9" height="8" fill="#ffcdd2"/>
<rect x="894" y="537" width="9" height="13" fill="#ef5350"/>
<rect x="904" y="537" width="9" height="13" fill="#ef5350"/>
<rect x="914" y="537" width="9" height="13" fill="#ef5350"/>
<rect x="924" y="537" width="9" height="13" fill="#ffcdd2"/>
<rect x="934" y="537" width="8" height="13" fill="#ffcdd2"/>
<rect x="943" y="537" width="9" height="9" fill="#ffcdd2"/>
<rect x="953" y="537" width="9" height="8" fill="#ffcdd2"/>
<rect x="963" y="537" width="9" height="9" fill="#ef5350"/>
<rect x="973" y="537" width="9" height="7" fill="#ffcdd2"/>
<rect x="983" y="537" width="9" height="3" fill="#ffcdd2"/>
<rect x="993" y="537" width="9" height="1" fill="#ffcdd2"/>
<rect x="1003" y="537" width="8" height="6" fill="#ef5350"/>
<rect x="1012" y="537" width="9" height="7" fill="#ef5350"/>
<rect x="1022" y="531" width="9" height="7" fill="#26a69a"/>
<rect x="1032" y="529" width="9" height="9" fill="#26a69a"/>
<rect x="1042" y="524" width="9" height="14" fill="#26a69a"/>
<rect x="1052" y="521" width="9" height="17" fill="#26a69a"/>
<rect x="1062" y="517" width="9" height="21" fill="#26a69a"/>
<rect x="1072" y="515" width="8" height="23" fill="#26a69a"/>
<rect x="1081" y="515" width="9" height="23" fill="#26a69a"/>
<rect x="1091" y="515" width="9" height="23" fill="#b2dfdb"/>
<rect x="1101" y="517" width="9" height="21" fill="#b2dfdb"/>
<rect x="1111" y="519" width="9" height="19" fill="#b2dfdb"/>
<rect x="1121" y="522" width="9" height="16" fill="#b2dfdb"/>
<rect x="1131" y="526" width="9" height="12" fill="#b2dfdb"/>
<rect x="1141" y="532" width="8" height="6" fill="#b2dfdb"/>
<rect x="1150" y="532" width="9" height="6" fill="#b2dfdb"/>
<rect x="1160" y="533" width="9" height="5" fill="#b2dfdb"/>
<rect x="1170" y="529" width="9" height="9" fill="#26a69a"/>
<rect x="1180" y="525" width="9" height="13" fill="#26a69a"/>
<rect x="1190" y="526" width="9" height="12" fill="#b2dfdb"/>
<rect x="1200" y="527" width="8" height="11" fill="#b2dfdb"/>
<rect x="1209" y="524" width="9" height="14" fill="#26a69a"/>
<rect x="1219" y="522" width="9" height="16" fill="#26a69a"/>
<rect x="1229" y="524" width="9" height="14" fill="#b2dfdb"/>
<rect x="1239" y="520" width="9" height="18" fill="#26a69a"/>
<rect x="1249" y="519" width="9" height="19" fill="#26a69a"/>
<rect x="1259" y="523" width="9" height="15" fill="#b2dfdb"/>
<rect x="1269" y="529" width="8" height="9" fill="#b2dfdb"/>
<rect x="1278" y="529" width="9" height="9" fill="#b2dfdb"/>
<rect x="1288" y="535" width="9" height="3" fill="#b2dfdb"/>
<rect x="1298" y="537" width="9" height="4" fill="#ef5350"/>
<rect x="1308" y="537" width="9" height="10" fill="#ef5350"/>
<rect x="1318" y="537" width="9" height="12" fill="#ef5350"/>
<rect x="1328" y="537" width="9" height="15" fill="#ef5350"/>
<rect x="1338" y="537" width="8" height="16" fill="#ef5350"/>
<rect x="1347" y="537" width="9" height="19" fill="#ef5350"/>
<rect x="1357" y="537" width="9" height="21" fill="#ef5350"/>
<rect x="1367" y="537" width="9" height="21" fill="#ef5350"/>
<rect x="1377" y="537" width="9" height="24" fill="#ef5350"/>
<rect x="1387" y="537" width="9" height="23" fill="#ffcdd2"/>
<rect x="1397" y="537" width="9" height="27" fill="#ef5350"/>
<rect x="1407" y="537" width="8" height="32" fill="#ef5350"/>
</g>
<polyline points="2.5,467.6 12.5,464.0 21.5,460.0 31.5,456.0 41.5,453.0 51.5,451.0 61.5,450.0 71.5,449.6 81.5,450.0 90.5,450.0 100.5,450.4 110.5,450.8 120.5,451.6 130.5,453.0 140.5,454.6 149.5,457.0 159.5,459.6 169.5,463.6 179.5,469.0 189.5,477.0 199.5,486.0 209.5,496.0 218.5,505.0 228.5,514.0 238.5,521.0 248.5,526.0 258.5,529.7 268.5,532.0 278.5,533.7 287.5,535.0 297.5,535.7 307.5,535.7 317.5,537.0 327.5,538.5 337.5,540.5 347.5,542.5 356.5,545.0 366.5,548.0 376.5,551.0 386.5,553.0 396.5,556.0 406.5,559.0 415.5,562.0 425.5,564.8 435.5,567.0 445.5,568.8 455.5,570.6 465.5,571.8 475.5,572.6 484.5,571.8 494.5,570.0 504.5,568.6 514.5,566.6 524.5,565.0 534.5,564.6 544.5,564.6 553.5,564.8 563.5,565.8 573.5,567.0 583.5,567.6 593.5,567.0 603.5,565.8 613.5,564.0 622.5,562.0 632.5,560.0 642.5,558.6 652.5,556.8 662.5,553.8 672.5,549.0 681.5,543.5 691.5,538.0 701.5,534.0 711.5,531.0 721.5,528.5 731.5,526.5 741.5,524.0 750.5,522.0 760.5,521.0 770.5,520.0 780.5,519.5 790.5,518.7 800.5,518.0 810.5,520.5 819.5,524.0 829.5,527.7 839.5,530.7 849.5,533.5 859.5,536.5 869.5,539.7 879.5,542.0 888.5,544.0 898.5,547.0 908.5,550.5 918.5,553.7 928.5,557.0 938.5,560.0 947.5,562.5 957.5,564.5 967.5,566.0 977.5,567.0 987.5,567.5 997.5,568.0 1007.5,569.5 1016.5,570.7 1026.5,569.0 1036.5,566.8 1046.5,563.0 1056.5,559.0 1066.5,554.0 1076.5,549.0 1085.5,543.7 1095.5,538.7 1105.5,533.7 1115.5,529.7 1125.5,526.0 1135.5,523.0 1145.5,522.0 1154.5,521.0 1164.5,520.0 1174.5,518.0 1184.5,515.5 1194.5,513.0 1204.5,510.5 1213.5,507.0 1223.5,503.7 1233.5,500.0 1243.5,496.0 1253.5,492.0 1263.5,489.0 1273.5,487.0 1282.5,485.0 1292.5,484.5 1302.5,485.0 1312.5,487.0 1322.5,490.0 1332.5,494.0 1342.5,498.5 1351.5,503.5 1361.5,508.5 1371.5,514.0 1381.5,520.0 1391.5,526.0 1401.5,532.0 1411.5,538.0" fill="none" stroke="#e5534f" stroke-width="1" stroke-linejoin="round"/>
<polyline points="2.5,457.6 12.5,451.6 21.5,446.4 31.5,442.0 41.5,440.0 51.5,442.4 61.5,445.6 71.5,448.0 81.5,452.4 90.5,452.0 100.5,450.4 110.5,452.0 120.5,455.6 130.5,458.0 140.5,460.4 149.5,464.4 159.5,469.0 169.5,477.7 179.5,490.0 189.5,504.0 199.5,514.0 209.5,524.0 218.5,533.7 228.5,543.0 238.5,552.5 248.5,550.0 258.5,547.0 268.5,544.0 278.5,541.0 287.5,538.5 297.5,537.7 307.5,534.0 317.5,539.0 327.5,543.0 337.5,549.0 347.5,552.8 356.5,554.6 366.5,558.6 376.5,562.6 386.5,562.0 396.5,566.0 406.5,570.6 415.5,574.0 425.5,576.0 435.5,576.8 445.5,576.0 455.5,576.6 465.5,576.6 475.5,574.6 484.5,569.0 494.5,564.0 504.5,560.6 514.5,556.0 524.5,559.0 534.5,561.8 544.5,565.0 553.5,565.0 563.5,568.0 573.5,574.0 583.5,568.6 593.5,567.0 603.5,561.0 613.5,557.0 622.5,554.0 632.5,553.6 642.5,552.6 652.5,551.5 662.5,542.5 672.5,532.0 681.5,522.5 691.5,516.0 701.5,518.0 711.5,519.7 721.5,519.0 731.5,518.5 741.5,513.5 750.5,515.7 760.5,515.0 770.5,517.5 780.5,518.5 790.5,516.0 800.5,516.3 810.5,525.0 819.5,538.0 829.5,542.0 839.5,544.0 849.5,545.0 859.5,547.7 869.5,550.0 879.5,551.0 888.5,552.0 898.5,558.5 908.5,562.5 918.5,566.0 928.5,569.0 938.5,572.0 947.5,569.7 957.5,571.0 967.5,573.5 977.5,573.5 987.5,570.0 997.5,568.5 1007.5,573.7 1016.5,576.5 1026.5,564.0 1036.5,559.0 1046.5,551.0 1056.5,544.0 1066.5,535.0 1076.5,527.0 1085.5,521.0 1095.5,517.0 1105.5,514.0 1115.5,512.0 1125.5,511.5 1135.5,512.7 1145.5,517.5 1154.5,516.7 1164.5,516.0 1174.5,510.0 1184.5,503.7 1194.5,502.0 1204.5,501.0 1213.5,494.0 1223.5,488.0 1233.5,487.0 1243.5,479.7 1253.5,474.5 1263.5,475.0 1273.5,478.5 1282.5,477.5 1292.5,482.0 1302.5,489.0 1312.5,496.7 1322.5,502.0 1332.5,508.5 1342.5,513.7 1351.5,521.0 1361.5,527.7 1371.5,533.0 1381.5,541.5 1391.5,546.0 1401.5,558.0 1411.5,570.0" fill="none" stroke="#151515" stroke-width="1" stroke-linejoin="round"/>
</g>
<g clip-path="url(#c3)">
<line x1="-2" y1="630.5" x2="1722" y2="630.5" stroke="#65a06c" stroke-width="1" stroke-dasharray="5 6" shape-rendering="crispEdges"/>
<line x1="-2" y1="769.5" x2="1722" y2="769.5" stroke="#b96262" stroke-width="1" stroke-dasharray="5 6" shape-rendering="crispEdges"/>
<polyline points="2.5,624.2 12.5,619.8 21.5,616.7 31.5,614.5 41.5,612.2 51.5,642.0 61.5,640.8 71.5,636.6 81.5,651.4 90.5,633.0 100.5,626.6 110.5,637.0 120.5,648.0 130.5,645.9 140.5,641.4 149.5,652.0 159.5,659.0 169.5,687.9 179.5,712.2 189.5,737.2 199.5,728.3 209.5,735.8 218.5,737.6 228.5,745.3 238.5,754.6 248.5,696.7 258.5,696.7 268.5,694.0 278.5,695.0 287.5,685.6 297.5,699.4 307.5,678.6 317.5,718.2 327.5,721.0 337.5,735.0 347.5,725.4 356.5,718.4 366.5,733.2 376.5,735.8 386.5,718.4 396.5,736.5 406.5,743.6 415.5,745.3 425.5,742.0 435.5,740.5 445.5,735.0 455.5,742.0 465.5,742.0 475.5,728.8 484.5,705.5 494.5,700.0 504.5,705.5 514.5,695.6 524.5,735.8 534.5,739.2 544.5,747.6 553.5,727.0 563.5,743.1 573.5,761.3 583.5,701.6 593.5,715.5 603.5,693.4 613.5,698.9 622.5,702.2 632.5,709.5 642.5,710.4 652.5,707.1 662.5,668.0 672.5,661.3 681.5,654.7 691.5,654.0 701.5,691.6 711.5,692.5 721.5,684.1 731.5,682.3 741.5,662.9 750.5,691.6 760.5,681.9 770.5,695.6 780.5,689.4 790.5,675.7 800.5,685.2 810.5,722.1 819.5,747.1 829.5,712.8 839.5,710.4 849.5,707.1 859.5,717.0 869.5,717.0 879.5,712.4 888.5,715.5 898.5,738.7 908.5,732.5 918.5,738.0 928.5,738.0 938.5,741.4 947.5,716.2 957.5,732.0 967.5,738.7 977.5,728.8 987.5,710.6 997.5,719.3 1007.5,748.2 1016.5,736.5 1026.5,678.4 1036.5,698.9 1046.5,686.8 1056.5,684.1 1066.5,673.5 1076.5,671.3 1085.5,673.0 1095.5,669.5 1105.5,669.5 1115.5,672.4 1125.5,676.8 1135.5,683.4 1145.5,704.9 1154.5,683.4 1164.5,681.7 1174.5,658.7 1184.5,648.7 1194.5,668.0 1204.5,668.0 1213.5,647.0 1223.5,640.8 1233.5,658.5 1243.5,636.3 1253.5,637.0 1263.5,659.1 1273.5,674.6 1282.5,658.0 1292.5,683.0 1302.5,691.2 1312.5,701.1 1322.5,696.3 1332.5,704.0 1342.5,701.6 1351.5,715.0 1361.5,720.6 1371.5,720.6 1381.5,739.4 1391.5,727.0 1401.5,750.9 1411.5,767.5" fill="none" stroke="#2c2c2c" stroke-width="1" stroke-linejoin="round"/>
</g>
<g shape-rendering="crispEdges" fill="#4b4d50">
<rect x="0" y="421" width="1767" height="1"/>
<rect x="0" y="591" width="1767" height="1"/>
<rect x="0" y="786" width="1767" height="1"/>
<rect x="1722" y="0" width="1" height="814"/>
<rect x="1723" y="29" width="4" height="1"/>
<rect x="1723" y="91" width="4" height="1"/>
<rect x="1723" y="153" width="4" height="1"/>
<rect x="1723" y="215" width="4" height="1"/>
<rect x="1723" y="277" width="4" height="1"/>
<rect x="1723" y="339" width="4" height="1"/>
<rect x="1723" y="401" width="4" height="1"/>
<rect x="1723" y="462" width="4" height="1"/>
<rect x="1723" y="499" width="4" height="1"/>
<rect x="1723" y="537" width="4" height="1"/>
<rect x="1723" y="574" width="4" height="1"/>
<rect x="1723" y="425" width="4" height="1"/>
<rect x="1723" y="595" width="4" height="1"/>
<rect x="1723" y="630" width="4" height="1"/>
<rect x="1723" y="665" width="4" height="1"/>
<rect x="1723" y="700" width="4" height="1"/>
<rect x="1723" y="735" width="4" height="1"/>
<rect x="1723" y="769" width="4" height="1"/>
<rect x="21" y="787" width="1" height="4"/>
<rect x="140" y="787" width="1" height="4"/>
<rect x="238" y="787" width="1" height="4"/>
<rect x="356" y="787" width="1" height="4"/>
<rect x="455" y="787" width="1" height="4"/>
<rect x="573" y="787" width="1" height="4"/>
<rect x="681" y="787" width="1" height="4"/>
<rect x="800" y="787" width="1" height="4"/>
<rect x="898" y="787" width="1" height="4"/>
<rect x="1016" y="787" width="1" height="4"/>
<rect x="1115" y="787" width="1" height="4"/>
<rect x="1233" y="787" width="1" height="4"/>
<rect x="1332" y="787" width="1" height="4"/>
<rect x="1450" y="787" width="1" height="4"/>
<rect x="1568" y="787" width="1" height="4"/>
<rect x="1686" y="787" width="1" height="4"/>
</g>
<text class="ax" transform="translate(1732.2 33.1) scale(0.96 1)">70.00</text>
<text class="ax" transform="translate(1732.2 95.1) scale(0.96 1)">69.50</text>
<text class="ax" transform="translate(1732.2 157.1) scale(0.96 1)">69.00</text>
<text class="ax" transform="translate(1732.2 219.1) scale(0.96 1)">68.50</text>
<text class="ax" transform="translate(1732.2 281.1) scale(0.96 1)">68.00</text>
<text class="ax" transform="translate(1732.2 343.1) scale(0.96 1)">67.50</text>
<text class="ax" transform="translate(1732.2 405.1) scale(0.96 1)">67.00</text>
<g clip-path="url(#a2)">
<text class="ax" transform="translate(1732.2 429.1) scale(0.96 1)">0.60</text>
<text class="ax" transform="translate(1732.2 466.1) scale(0.96 1)">0.40</text>
<text class="ax" transform="translate(1732.2 503.1) scale(0.96 1)">0.20</text>
<text class="ax" transform="translate(1732.2 541.1) scale(0.96 1)">0.00</text>
<text class="ax" transform="translate(1732.2 578.1) scale(0.96 1)">−0.20</text>
</g><g clip-path="url(#a3)">
<text class="ax" transform="translate(1732.2 599.1) scale(0.96 1)">80.00</text>
<text class="ax" transform="translate(1732.2 634.1) scale(0.96 1)">70.00</text>
<text class="ax" transform="translate(1732.2 669.1) scale(0.96 1)">60.00</text>
<text class="ax" transform="translate(1732.2 704.1) scale(0.96 1)">50.00</text>
<text class="ax" transform="translate(1732.2 739.1) scale(0.96 1)">40.00</text>
<text class="ax" transform="translate(1732.2 773.1) scale(0.96 1)">30.00</text>
</g>
<text class="ax" transform="translate(21.5 803.6) scale(0.96 1)" text-anchor="middle">5</text>
<text class="ax" transform="translate(140.5 803.6) scale(0.96 1)" text-anchor="middle">12:00</text>
<text class="ax" transform="translate(238.5 803.6) scale(0.96 1)" text-anchor="middle">6</text>
<text class="ax" transform="translate(356.5 803.6) scale(0.96 1)" text-anchor="middle">12:00</text>
<text class="ax" transform="translate(455.5 803.6) scale(0.96 1)" text-anchor="middle">7</text>
<text class="ax" transform="translate(573.5 803.6) scale(0.96 1)" text-anchor="middle">12:00</text>
<text class="ax" transform="translate(681.5 803.6) scale(0.96 1)" text-anchor="middle">10</text>
<text class="ax" transform="translate(800.5 803.6) scale(0.96 1)" text-anchor="middle">12:00</text>
<text class="ax" transform="translate(898.5 803.6) scale(0.96 1)" text-anchor="middle">11</text>
<text class="ax" transform="translate(1016.5 803.6) scale(0.96 1)" text-anchor="middle">12:00</text>
<text class="ax" transform="translate(1115.5 803.6) scale(0.96 1)" text-anchor="middle">12</text>
<text class="ax" transform="translate(1233.5 803.6) scale(0.96 1)" text-anchor="middle">12:00</text>
<text class="ax" transform="translate(1332.5 803.6) scale(0.96 1)" text-anchor="middle">13</text>
<text class="ax" transform="translate(1450.5 803.6) scale(0.96 1)" text-anchor="middle">12:00</text>
<text class="ax" transform="translate(1568.5 803.6) scale(0.96 1)" text-anchor="middle">14</text>
<text class="ax" transform="translate(1686.5 803.6) scale(0.96 1)" text-anchor="middle">12:00</text>
<rect x="1722" y="308" width="45" height="31" fill="#ee5250" shape-rendering="crispEdges"/>
<rect x="1723" y="316" width="4" height="1" fill="#fff" shape-rendering="crispEdges"/>
<text transform="translate(1731.8 320.6) scale(0.9 1)" font-size="12.2" font-weight="bold" fill="#fff">67.68</text>
<text transform="translate(1731.8 334.8) scale(0.9 1)" font-size="12.2" font-weight="bold" fill="#fff" fill-opacity="0.82">09:17</text>
<rect x="1733.5" y="2.5" width="28" height="19" rx="4" ry="4" fill="#fff" stroke="#dfe2e8" stroke-width="1"/>
<text transform="translate(1747.6 16) scale(0.84 1)" font-size="12" text-anchor="middle" fill="#4f5153">USD</text>
<g stroke="#222" stroke-width="1.35" fill="none" stroke-linecap="butt">
<circle cx="1747.4" cy="800.5" r="4.5"/>
<line x1="1752.50" y1="800.50" x2="1755.00" y2="800.50"/>
<line x1="1751.01" y1="804.11" x2="1752.77" y2="805.87"/>
<line x1="1747.40" y1="805.60" x2="1747.40" y2="808.10"/>
<line x1="1743.79" y1="804.11" x2="1742.03" y2="805.87"/>
<line x1="1742.30" y1="800.50" x2="1739.80" y2="800.50"/>
<line x1="1743.79" y1="796.89" x2="1742.03" y2="795.13"/>
<line x1="1747.40" y1="795.40" x2="1747.40" y2="792.90"/>
<line x1="1751.01" y1="796.89" x2="1752.77" y2="795.13"/>
</g>
<rect x="6" y="3" width="244" height="22" fill="rgba(255,255,255,0.56)"/>
<rect x="316" y="3" width="280" height="22" fill="rgba(255,255,255,0.56)"/>
<text x="7" y="17.8" font-size="14" fill="#4f5153" textLength="241" lengthAdjust="spacingAndGlyphs">CFDs on Brent Crude Oil · 1h · TVC</text>
<path d="M272.5 3.5 H284 V20.5 H272.5 A8.5 8.5 0 0 1 272.5 3.5 Z" fill="#d9eeeb"/>
<path d="M284 3.5 H295.5 A8.5 8.5 0 0 1 295.5 20.5 H284 Z" fill="#f9bdd3"/>
<circle cx="274.9" cy="12.2" r="4" fill="#089981"/>
<text x="293.4" y="17.6" font-size="15.5" text-anchor="middle" fill="#8e2657">≈</text>
<text x="319.3" y="18.3" font-size="13" fill="#4f5153" textLength="8.2" lengthAdjust="spacingAndGlyphs">O</text>
<text x="329.5" y="18.3" font-size="13" fill="#e0605e" textLength="31.5" lengthAdjust="spacingAndGlyphs">68.08</text>
<text x="367.6" y="18.3" font-size="13" fill="#4f5153" textLength="8.4" lengthAdjust="spacingAndGlyphs">H</text>
<text x="377.3" y="18.3" font-size="13" fill="#e0605e" textLength="30.8" lengthAdjust="spacingAndGlyphs">68.12</text>
<text x="415.3" y="18.3" font-size="13" fill="#4f5153" textLength="6" lengthAdjust="spacingAndGlyphs">L</text>
<text x="422" y="18.3" font-size="13" fill="#e0605e" textLength="31.7" lengthAdjust="spacingAndGlyphs">67.64</text>
<text x="460.4" y="18.3" font-size="13" fill="#4f5153" textLength="7.6" lengthAdjust="spacingAndGlyphs">C</text>
<text x="469" y="18.3" font-size="13" fill="#e0605e" textLength="31.6" lengthAdjust="spacingAndGlyphs">67.68</text>
<text x="508.4" y="18.3" font-size="13" fill="#e0605e" textLength="30.6" lengthAdjust="spacingAndGlyphs">−0.38</text>
<text x="544.4" y="18.3" font-size="13" fill="#e0605e" textLength="47.9" lengthAdjust="spacingAndGlyphs">(−0.56%)</text>
<rect x="6" y="27" width="118" height="29" fill="rgba(255,255,255,0.56)"/>
<rect x="6" y="56" width="68" height="24" fill="rgba(255,255,255,0.56)"/>
<rect x="6" y="80" width="118" height="24" fill="rgba(255,255,255,0.56)"/>
<rect x="7" y="29.5" width="46.5" height="22" rx="3.5" fill="#fff" stroke="#e57373" stroke-width="1"/>
<text x="30.2" y="44.8" font-size="12" text-anchor="middle" fill="#e0605e" textLength="31.4" lengthAdjust="spacingAndGlyphs">67.68</text>
<text x="64.9" y="44.8" font-size="11" text-anchor="middle" fill="#4f5153">4</text>
<rect x="76.8" y="29.5" width="46.5" height="22" rx="3.5" fill="#fff" stroke="#3d95d6" stroke-width="1"/>
<text x="100" y="44.8" font-size="12" text-anchor="middle" fill="#2f8ad0" textLength="31" lengthAdjust="spacingAndGlyphs">67.72</text>
<text class="lg" x="7.5" y="72.8" textLength="17.5" lengthAdjust="spacingAndGlyphs">Vol</text>
<text x="34" y="72.8" font-size="12" fill="#e0605e" textLength="38.7" lengthAdjust="spacingAndGlyphs">2.294K</text>
<text class="lg" x="7.5" y="96.6" textLength="74" lengthAdjust="spacingAndGlyphs">EMA 20 close</text>
<text x="90" y="96.6" font-size="12" fill="#4a9e4e" textLength="32.3" lengthAdjust="spacingAndGlyphs">68.67</text>
<rect x="8" y="107.5" width="27" height="19" rx="3" fill="#fff" fill-opacity="0.72" stroke="#dfe2e8" stroke-width="1"/>
<path d="M17.3 118.6 L21.3 114.6 L25.3 118.6" fill="none" stroke="#222" stroke-width="1.4"/>
<rect x="6" y="427" width="229" height="22" fill="rgba(255,255,255,0.56)"/>
<text class="lg" x="7" y="443" textLength="111.5" lengthAdjust="spacingAndGlyphs">MACD 12 26 close 9</text>
<text x="127.5" y="443" font-size="12" fill="#e0605e" textLength="31.5" lengthAdjust="spacingAndGlyphs">−0.17</text>
<text x="166" y="443" font-size="12" fill="#1e1e1e" textLength="31" lengthAdjust="spacingAndGlyphs">−0.18</text>
<text x="203.5" y="443" font-size="12" fill="#e0605e" textLength="30.5" lengthAdjust="spacingAndGlyphs">−0.01</text>
<rect x="6" y="597" width="111" height="22" fill="rgba(255,255,255,0.56)"/>
<text class="lg" x="7.5" y="612.6" textLength="67.5" lengthAdjust="spacingAndGlyphs">RSI 14 close</text>
<text x="84" y="612.6" font-size="12" fill="#2a2a2a" textLength="31.4" lengthAdjust="spacingAndGlyphs">30.70</text>
<circle cx="21.5" cy="762.9" r="16.2" fill="#fff" stroke="#e9ebef" stroke-width="1"/>
<g transform="translate(10.9 755.6)">
<path d="M3.3 13 C1.2 13 0 11.6 0 9.6 C0 8.4 0.1 7.2 0.4 6.3 C1.1 5.2 2.6 5.0 3.8 5.4 C4.2 2.2 6.3 0.2 9.0 0.2 C11.0 0.2 12.6 1.2 13.4 3.0 C14.6 2.6 16.0 3.2 16.6 4.4 C17.4 4.5 18.0 4.6 18.6 5.2 C20.2 6.2 21.1 7.8 21.1 9.6 C21.1 11.6 20.0 13 18.0 13 Z" fill="#3a9be0"/>
<path d="M1.0 10.8 L7.8 4.9 L13.3 10.0 L18.0 5.0" fill="none" stroke="#e8f7ff" stroke-width="1.2" stroke-linejoin="round"/>
<circle cx="7.8" cy="4.9" r="1.45" fill="#e8f7ff"/><circle cx="13.3" cy="10.0" r="1.45" fill="#e8f7ff"/>
</g>
</svg></body></html>
